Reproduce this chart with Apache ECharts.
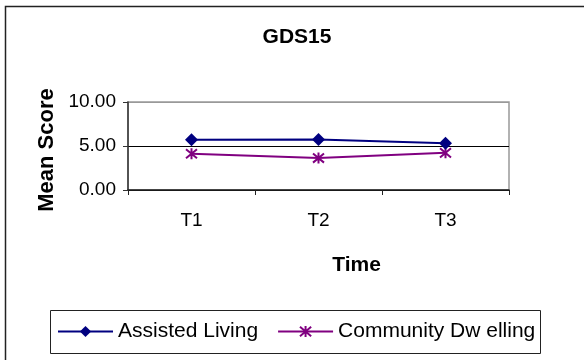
<!DOCTYPE html>
<html>
<head>
<meta charset="utf-8">
<script src="https://cdn.jsdelivr.net/npm/echarts@6/dist/echarts.min.js"></script>
<style>
  html, body { margin: 0; padding: 0; background: #fff; }
  #chart { width: 584px; height: 360px; }
</style>
</head>
<body>
<div id="chart"></div>
<script>
// GDS15 mean scores over three time points
const chartTitle = 'GDS15';
const timePoints = ['T1', 'T2', 'T3'];
const assistedLiving = [5.72, 5.73, 5.32];
const communityDwelling = [4.12, 3.63, 4.22];
const seriesNames = ['Assisted Living', 'Community Dw elling'];
const yTicks = { min: 0, max: 10, step: 5 };

const FONT = 'Arial, "Liberation Sans", sans-serif';
const asterisk = 'path://M0,0L10,10M10,0L0,10M5,-1L5,11';

const chart = echarts.init(document.getElementById('chart'), null, { renderer: 'canvas' });

chart.setOption({
  backgroundColor: '#ffffff',
  animation: false,
  title: {
    text: chartTitle,
    left: 292, top: 22,
    textAlign: 'center',
    textStyle: { fontFamily: FONT, fontSize: 21, fontWeight: 'bold', color: '#000' }
  },
  graphic: [
    // chart frame
    { type: 'rect', shape: { x: 5.5, y: 6.5, width: 700, height: 700 },
      style: { fill: null, stroke: '#222', lineWidth: 1.5 }, z: 0 },
    // legend frame
    { type: 'rect', shape: { x: 50.5, y: 310.5, width: 490, height: 43 },
      style: { fill: '#fff', stroke: '#222', lineWidth: 1 }, z: 1 }
  ],
  legend: {
    left: 57, top: 321,
    padding: 0,
    itemWidth: 55, itemHeight: 14, itemGap: 19,
    textStyle: { fontFamily: FONT, fontSize: 21, color: '#000' },
    data: seriesNames,
    z: 5
  },
  grid: {
    left: 128, right: 75, top: 102, bottom: 170,
    show: true, borderColor: '#999', borderWidth: 1.5, backgroundColor: 'transparent'
  },
  xAxis: {
    type: 'category',
    data: timePoints,
    name: 'Time',
    nameLocation: 'middle',
    nameGap: 65,
    nameTextStyle: {
      fontFamily: FONT, fontSize: 21, fontWeight: 'bold', color: '#000',
      padding: [0, 0, 0, 76]
    },
    axisLine: { lineStyle: { color: '#222', width: 1.5 } },
    axisTick: { show: true, length: 5, inside: false, lineStyle: { color: '#222' } },
    axisLabel: { fontFamily: FONT, fontSize: 19, color: '#000', margin: 21 }
  },
  yAxis: {
    type: 'value',
    min: yTicks.min, max: yTicks.max, interval: yTicks.step,
    name: 'Mean Score',
    nameLocation: 'middle',
    nameGap: 70,
    nameTextStyle: {
      fontFamily: FONT, fontSize: 22, fontWeight: 'bold', color: '#000',
      padding: [0, 8, 0, 0]
    },
    axisLine: { show: true, lineStyle: { color: '#333', width: 1.5 } },
    axisTick: { show: true, length: 5, lineStyle: { color: '#333' } },
    axisLabel: {
      fontFamily: FONT, fontSize: 19, color: '#000', margin: 12,
      formatter: v => v.toFixed(2)
    },
    splitLine: { show: true, lineStyle: { color: ['#000', '#000', '#999'], width: 1 } }
  },
  series: [
    {
      name: seriesNames[0],
      type: 'line',
      data: assistedLiving,
      symbol: 'diamond',
      symbolSize: 13,
      lineStyle: { color: '#000080', width: 2 },
      itemStyle: { color: '#000080' },
      z: 3
    },
    {
      name: seriesNames[1],
      type: 'line',
      data: communityDwelling,
      symbol: asterisk,
      symbolSize: 11,
      lineStyle: { color: '#800080', width: 2 },
      itemStyle: { color: '#800080', borderColor: '#800080', borderWidth: 2 },
      z: 2
    }
  ]
});
</script>
</body>
</html>
